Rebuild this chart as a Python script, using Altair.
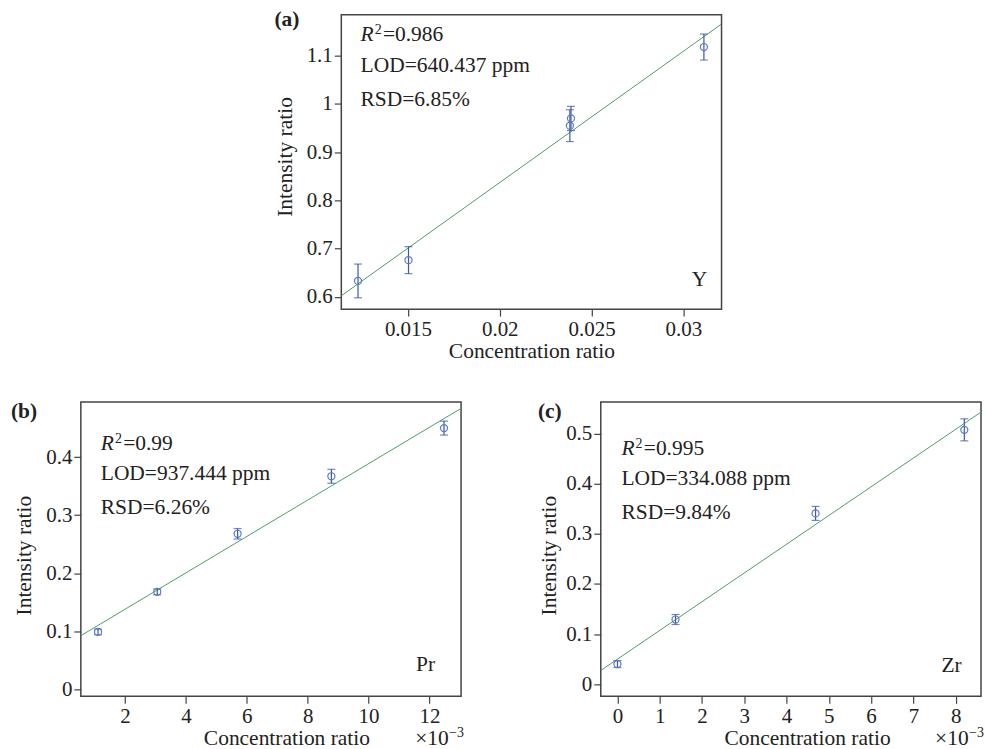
import altair as alt
import pandas as pd

# ---------------- data ----------------
# (a) Y
a_x = [0.01228, 0.01503, 0.02382, 0.02388, 0.03112]
a_y = [0.633, 0.676, 0.955, 0.970, 1.118]
a_err = [0.035, 0.028, 0.033, 0.025, 0.027]
# (b) Pr  (concentration ratio in units of 1e-3)
b_x = [1.115, 3.06, 5.70, 8.78, 12.48]
b_y = [0.099, 0.168, 0.268, 0.367, 0.450]
b_err = [0.005, 0.005, 0.009, 0.012, 0.012]
# (c) Zr  (concentration ratio in units of 1e-3)
c_x = [0.0, 1.373, 4.686, 8.205]
c_y = [0.040, 0.129, 0.341, 0.508]
c_err = [0.007, 0.010, 0.014, 0.022]

a_stats = ["0.986", "LOD=640.437 ppm", "RSD=6.85%"]
b_stats = ["0.99", "LOD=937.444 ppm", "RSD=6.26%"]
c_stats = ["0.995", "LOD=334.088 ppm", "RSD=9.84%"]

a_xticks = [0.015, 0.02, 0.025, 0.03]
a_yticks = [0.6, 0.7, 0.8, 0.9, 1.0, 1.1]
b_xticks = [2, 4, 6, 8, 10, 12]
b_yticks = [0, 0.1, 0.2, 0.3, 0.4]
c_xticks = [0, 1, 2, 3, 4, 5, 6, 7, 8]
c_yticks = [0, 0.1, 0.2, 0.3, 0.4, 0.5]

FONT = "Liberation Serif"
TXT = "#222222"
BAR = "#3b56a8"
PT = "#5a78cc"
FIT = "#4aa064"
W, H = 381, 295


def txt(label, px, py, size=21.5, align="left", baseline="alphabetic",
        weight="normal", style="normal"):
    return alt.Chart(pd.DataFrame({"t": [label]})).mark_text(
        font=FONT, fontSize=size, align=align, baseline=baseline,
        fontWeight=weight, fontStyle=style, color=TXT
    ).encode(x=alt.value(px), y=alt.value(py), text="t:N")


def panel(xs, ys, errs, xdom, ydom, xticks, yticks, xfmt, yfmt,
          tag, tagx, tagy, stats, sx, sy, elem, ex, ey,
          xtitle_x, ytitle_x, ytitle_y, exponent=False):
    df = pd.DataFrame({"x": xs, "y": ys, "e": errs})
    df["lo"] = df["y"] - df["e"]
    df["hi"] = df["y"] + df["e"]

    xsc = alt.Scale(domain=xdom, nice=False, zero=False)
    ysc = alt.Scale(domain=ydom, nice=False, zero=False)
    xax = alt.Axis(values=xticks, format=xfmt, title="Concentration ratio",
                   titleX=xtitle_x, titleY=48, titleAlign="center",
                   titleBaseline="alphabetic")
    yax = alt.Axis(values=yticks, format=yfmt, title="Intensity ratio",
                   titleX=ytitle_x, titleY=ytitle_y, titleAlign="center",
                   titleBaseline="middle")

    base = alt.Chart(df)
    fit = base.transform_regression("x", "y", extent=xdom).mark_line(
        color=FIT, strokeWidth=1, clip=True
    ).encode(x=alt.X("x:Q", scale=xsc, axis=xax),
             y=alt.Y("y:Q", scale=ysc, axis=yax))
    bars = base.mark_rule(color=BAR, strokeWidth=1.2).encode(
        x="x:Q", y="lo:Q", y2="hi:Q")
    cap_lo = base.mark_tick(color=BAR, orient="horizontal", size=8,
                            thickness=1.2).encode(x="x:Q", y="lo:Q")
    cap_hi = base.mark_tick(color=BAR, orient="horizontal", size=8,
                            thickness=1.2).encode(x="x:Q", y="hi:Q")
    pts = base.mark_point(shape="circle", filled=False, size=50,
                          color=PT, strokeWidth=1.2, opacity=1).encode(
        x="x:Q", y="y:Q")

    layers = [fit, bars, cap_lo, cap_hi, pts]
    layers.append(txt(tag, tagx, tagy, weight="bold"))
    # statistics block
    layers.append(txt("R", sx, sy[0], style="italic"))
    layers.append(txt("2", sx + 14.2, sy[0] - 7, size=14))
    layers.append(txt("=" + stats[0], sx + 22.4, sy[0]))
    layers.append(txt(stats[1], sx, sy[1]))
    layers.append(txt(stats[2], sx, sy[2]))
    layers.append(txt(elem, ex, ey, align="right"))
    if exponent:
        layers.append(txt("×10", 335, H + 49))
        layers.append(txt("−3", 369, H + 41, size=14))
    return alt.layer(*layers).properties(width=W, height=H)


pa = panel(a_x, a_y, a_err, [0.01137, 0.03208], [0.5745, 1.185],
           a_xticks, a_yticks, ".3~f", ".2~f",
           "(a)", -67, 11, a_stats, 19.3, [26.3, 57, 91], "Y", 366.7, 272,
           190.5, -56, 142)
pb = panel(b_x, b_y, b_err, [0.55, 13.04], [-0.012, 0.495],
           b_xticks, b_yticks, "d", ".1~f",
           "(b)", -70, 16, b_stats, 20, [47.7, 78.7, 112], "Pr", 355, 270,
           206, -56, 153.5, exponent=True)
pc = panel(c_x, c_y, c_err, [-0.395, 8.6], [-0.0245, 0.5637],
           c_xticks, c_yticks, "d", ".1~f",
           "(c)", -63, 16, c_stats, 20.7, [52.7, 83.3, 117.7], "Zr", 361.7, 271,
           206.7, -51, 153.5, exponent=True)

# empty spacer that pushes panel (a) to the middle of the top row
spacer = alt.Chart(pd.DataFrame({"t": [0]})).mark_rule(
    strokeOpacity=0, strokeWidth=1
).encode(x=alt.value(0), x2=alt.value(1), y=alt.value(0), y2=alt.value(1)
).properties(width=1, height=1, view=alt.ViewBackground(strokeOpacity=0))

top = alt.hconcat(spacer, pa, spacing=192)
bottom = alt.hconcat(pb, pc, spacing=72)
chart = alt.vconcat(top, bottom, spacing=37).properties(
    padding={"left": 10, "top": 7, "right": 0, "bottom": 0}
).configure_view(
    stroke="#444444", strokeWidth=1.5
).configure_axis(
    labelFont=FONT, labelFontSize=21, labelColor=TXT,
    titleFont=FONT, titleFontSize=21.5, titleColor=TXT, titleFontWeight="normal",
    tickSize=7, tickColor="#444444", tickWidth=1.2, labelPadding=2,
    domain=False, grid=False
)

chart.save("out.html", embed_options={"renderer": "svg", "actions": False})
